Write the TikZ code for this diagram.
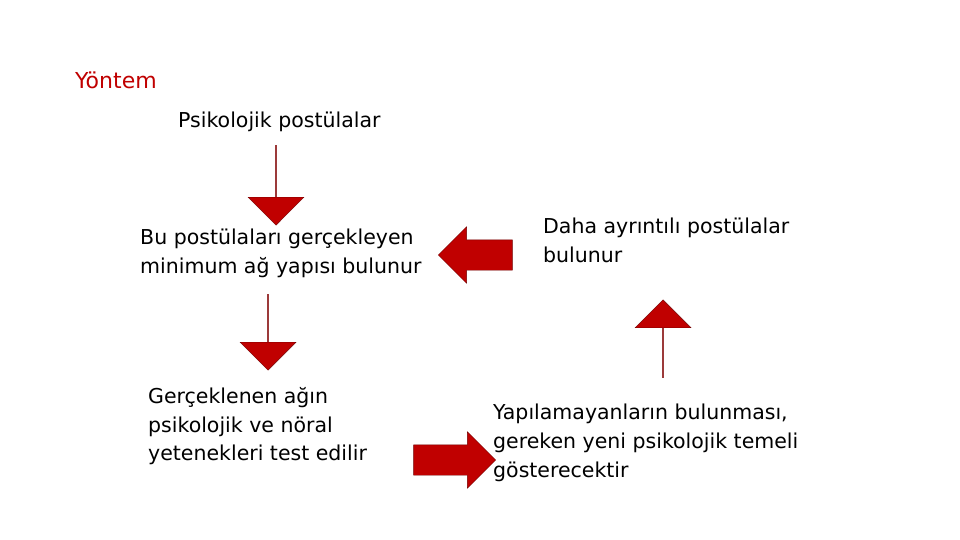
\documentclass[tikz,border=0pt]{standalone}
\usepackage{fontspec}
\setmainfont{DejaVu Sans}
\usetikzlibrary{shapes.arrows}
\definecolor{arrowred}{RGB}{192,0,0}
\definecolor{titlered}{RGB}{192,0,0}

\tikzset{
  bigarrow/.style={single arrow, fill=arrowred, draw=arrowred!60!black, thin,
    minimum width=56pt, single arrow head extend=13pt, inner xsep=0pt, inner ysep=15pt},
  txt/.style={anchor=north west, align=left, inner sep=0pt,
    font=\fontsize{20.5}{28.8}\selectfont}
}

\begin{document}
\begin{tikzpicture}[x=1pt,y=-1pt]
  \useasboundingbox (0,0) rectangle (960,540);

  \node (title) at (75,80) [anchor=west, inner sep=0pt, text=titlered,
    font=\fontsize{22}{26}\selectfont] {Yöntem};
  \node (psi)  at (178,112) [txt] {Psikolojik postülalar};
  \node (min)  at (140,229) [txt] {Bu postülaları gerçekleyen\\minimum ağ yapısı bulunur};
  \node (daha) at (543,218) [txt] {Daha ayrıntılı postülalar\\bulunur};
  \node (test) at (148,387) [txt] {Gerçeklenen ağın\\psikolojik ve nöral\\yetenekleri test edilir};
  \node (yap)  at (493,404) [txt] {Yapılamayanların bulunması,\\ gereken yeni psikolojik temeli\\gösterecektir};

  \node (a1) at (276,185) [bigarrow, minimum height=80pt, shape border rotate=270] {};
  \node (a2) at (483,255) [bigarrow, minimum height=74pt, shape border rotate=180] {};
  \node (a3) at (268,332) [bigarrow, minimum height=76pt, shape border rotate=270] {};
  \node (a4) at (447,460) [bigarrow, minimum height=82pt] {};
  \node (a5) at (663,339) [bigarrow, minimum height=78pt, shape border rotate=90] {};
\end{tikzpicture}
\end{document}
